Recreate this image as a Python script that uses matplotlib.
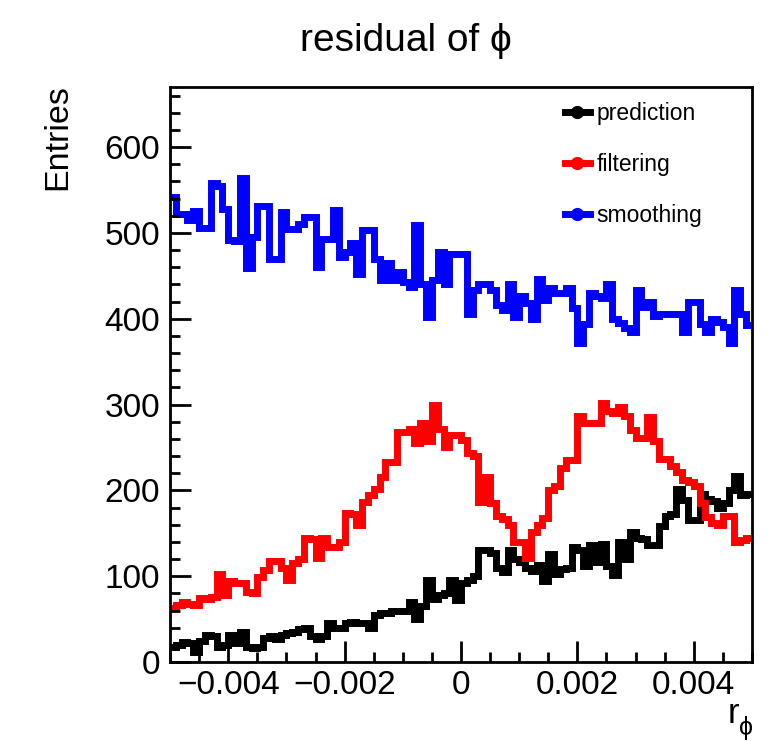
import numpy as np
import matplotlib
matplotlib.use("Agg")
import matplotlib.pyplot as plt
from matplotlib.lines import Line2D
from matplotlib.ticker import FixedLocator, MultipleLocator, FuncFormatter

plt.rcParams['font.family'] = ['Liberation Sans', 'DejaVu Sans']

# residual histogram: 100 bins over [-0.005, 0.005]
x_lo, x_hi, n_bins = -0.005, 0.005, 100

prediction = [
    18, 20, 23, 22, 12, 25, 32, 30, 18, 20,
    31, 22, 35, 18, 16, 17, 28, 30, 27, 32,
    34, 35, 38, 40, 30, 27, 30, 45, 40, 40,
    45, 47, 45, 45, 40, 55, 57, 57, 59, 60,
    60, 70, 50, 65, 95, 74, 78, 80, 95, 72,
    92, 96, 100, 131, 131, 127, 110, 105, 131, 120,
    117, 110, 106, 113, 94, 126, 103, 108, 110, 134,
    130, 112, 136, 117, 137, 112, 101, 140, 120, 151,
    145, 143, 136, 136, 158, 170, 173, 202, 189, 165,
    165, 196, 190, 188, 180, 185, 200, 217, 195, 196,
]

filtering = [
    63, 66, 70, 68, 66, 75, 74, 76, 103, 78,
    94, 92, 92, 82, 80, 99, 107, 118, 118, 110,
    96, 115, 120, 145, 143, 121, 145, 134, 134, 140,
    174, 172, 160, 187, 195, 202, 215, 233, 233, 268,
    268, 271, 255, 279, 258, 300, 272, 250, 265, 265,
    259, 243, 240, 187, 215, 185, 170, 167, 160, 140,
    140, 121, 152, 160, 168, 200, 205, 226, 235, 235,
    287, 279, 279, 279, 302, 292, 290, 297, 287, 270,
    261, 261, 286, 257, 237, 237, 228, 221, 212, 210,
    205, 185, 169, 162, 160, 170, 170, 140, 142, 145,
]

smoothing = [
    542, 522, 522, 515, 525, 506, 506, 558, 555, 528,
    492, 490, 564, 459, 495, 531, 531, 469, 469, 524,
    505, 505, 510, 519, 519, 460, 493, 493, 527, 472,
    478, 488, 452, 503, 503, 470, 445, 465, 445, 455,
    443, 437, 509, 440, 402, 445, 478, 441, 475, 475,
    475, 405, 433, 440, 440, 434, 416, 410, 440, 402,
    427, 418, 400, 446, 422, 436, 430, 430, 436, 412,
    372, 394, 430, 427, 424, 440, 400, 395, 389, 385,
    434, 414, 420, 403, 405, 405, 405, 405, 385, 419,
    419, 394, 385, 400, 396, 390, 372, 433, 405, 393,
]

series = [
    ('prediction', prediction, '#000000'),
    ('filtering', filtering, '#ff0000'),
    ('smoothing', smoothing, '#0000ff'),
]

x_ticks = [-0.004, -0.002, 0.0, 0.002, 0.004]
y_ticks = [0, 100, 200, 300, 400, 500, 600]


def fmt_x(v, pos):
    if abs(v) < 1e-12:
        return '0'
    return ('%g' % v).replace('-', '\u2212')


def main():
    fig = plt.figure(figsize=(7.8, 7.41), dpi=100)
    ax = fig.add_axes([0.218, 0.1066, 0.746, 0.776])

    edges = np.linspace(x_lo, x_hi, n_bins + 1)
    for name, vals, col in series:
        ax.stairs(vals, edges, baseline=None, color=col, lw=5)

    ax.set_xlim(x_lo, x_hi)
    ax.set_ylim(0, 670)

    ax.xaxis.set_major_locator(FixedLocator(x_ticks))
    ax.xaxis.set_minor_locator(MultipleLocator(0.0005))
    ax.xaxis.set_major_formatter(FuncFormatter(fmt_x))
    ax.yaxis.set_major_locator(FixedLocator(y_ticks))
    ax.yaxis.set_minor_locator(MultipleLocator(20))

    ax.tick_params(which='both', direction='in', top=False, right=False,
                   width=2, labelsize=24)
    ax.tick_params(axis='y', which='major', length=15, pad=7)
    ax.tick_params(axis='y', which='minor', length=7)
    ax.tick_params(axis='x', which='major', length=15, pad=6)
    ax.tick_params(axis='x', which='minor', length=7)
    for sp in ax.spines.values():
        sp.set_linewidth(2)

    handles = [Line2D([], [], color=col, lw=5, marker='o', markersize=8.5)
               for _, _, col in series]
    ax.legend(handles, [s[0] for s in series], loc='upper left',
              bbox_to_anchor=(0.724, 0.862), bbox_transform=fig.transFigure,
              frameon=False, fontsize=16.5, borderpad=0, borderaxespad=0,
              handlelength=1.1, handletextpad=0.3, labelspacing=1.22)

    fig.text(0.52, 0.945, 'residual of \u03d5', ha='center', va='center',
             fontsize=28)
    fig.text(0.074, 0.887, 'Entries', ha='center', va='top',
             rotation=90, fontsize=24.5)
    fig.text(0.933, 0.0243, 'r', ha='left', va='baseline', fontsize=25)
    fig.text(0.947, 0.008, '\u03d5', ha='left', va='baseline', fontsize=18)

    fig.savefig('out.png', dpi=100)


if __name__ == "__main__":
    main()
